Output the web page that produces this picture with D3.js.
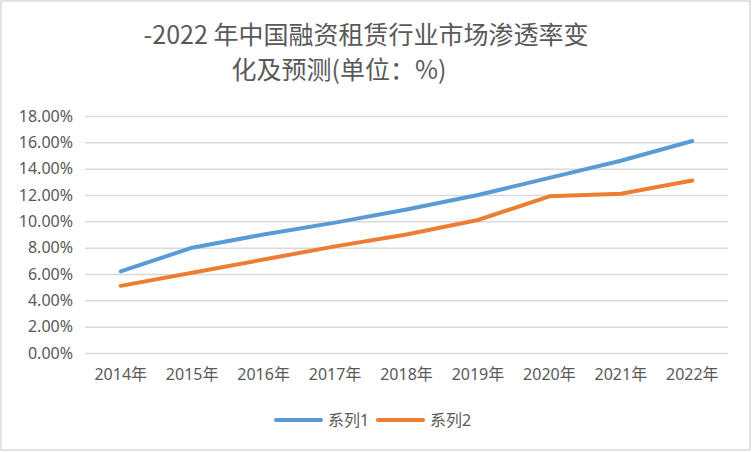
<!DOCTYPE html>
<html>
<head>
<meta charset="utf-8">
<script src="https://cdn.jsdelivr.net/npm/d3@7"></script>
<style>
  body { margin: 0; background: #fff; }
  text { font-family: "Noto Sans", "Noto Sans CJK SC", sans-serif; fill: #595959; }
</style>
</head>
<body>
<svg></svg>
<script>
// Data (percent)
const years = ["2014年", "2015年", "2016年", "2017年", "2018年", "2019年", "2020年", "2021年", "2022年"];
const series1 = [6.2, 8.0, 9.0, 9.9, 10.9, 12.0, 13.3, 14.6, 16.1];
const series2 = [5.1, 6.1, 7.1, 8.1, 9.0, 10.1, 11.9, 12.1, 13.1];
const seriesNames = ["系列1", "系列2"];
const yTicks = [0, 2, 4, 6, 8, 10, 12, 14, 16, 18];
const titleLines = ["-2022 年中国融资租赁行业市场渗透率变", "化及预测(单位：%)"];

let width = 752, height = 452;
let margin = { top: 116, bottom: 99, left: 85, right: 24 };
const colors = ["#5B9BD5", "#ED7D31"];

let svg = d3.select('svg')
    .attr('width', width)
    .attr('height', height);

// chart border
svg.append('rect')
    .attr('x', 1).attr('y', 1)
    .attr('width', width - 3).attr('height', height - 3)
    .attr('fill', '#fff')
    .attr('stroke', '#d9d9d9')
    .attr('stroke-width', 1.5);

// title
svg.append('text').attr('x', 366).attr('y', 44)
    .attr('text-anchor', 'middle').style('font-size', '25px')
    .style('font-family', '"Noto Sans CJK SC", sans-serif')
    .text(titleLines[0]);
svg.append('text').attr('x', 339).attr('y', 79)
    .attr('text-anchor', 'middle').style('font-size', '25px')
    .style('font-family', '"Noto Sans CJK SC", sans-serif')
    .text(titleLines[1]);

let xScale = d3.scaleBand()
    .domain(years)
    .range([margin.left, width - margin.right]);

let yScale = d3.scaleLinear()
    .domain([0, 18])
    .range([height - margin.bottom, margin.top]);

// gridlines + y labels
let yAxis = svg.append('g')
    .attr('transform', `translate(${margin.left}, 0)`)
    .call(d3.axisLeft(yScale)
        .tickValues(yTicks)
        .tickSize(-(width - margin.left - margin.right))
        .tickPadding(12)
        .tickFormat(d => d.toFixed(2) + '%'));
yAxis.select('.domain').remove();
yAxis.selectAll('line').attr('stroke', '#d9d9d9').attr('stroke-width', 1.5);
yAxis.selectAll('text').style('font-size', '16px').attr('fill', '#595959');

// x labels
let xAxis = svg.append('g')
    .attr('transform', `translate(0, ${height - margin.bottom})`)
    .call(d3.axisBottom(xScale).tickSize(0).tickPadding(16));
xAxis.select('.domain').remove();
xAxis.selectAll('text').style('font-size', '16px').attr('fill', '#595959')
    .style('font-family', '"Noto Sans", "Noto Sans CJK SC", sans-serif');

// lines
let line = d3.line()
    .x((d, i) => xScale(years[i]) + xScale.bandwidth() / 2)
    .y(d => yScale(d));

[series1, series2].forEach((s, k) => {
    svg.append('path')
        .datum(s)
        .attr('d', line)
        .attr('fill', 'none')
        .attr('stroke', colors[k])
        .attr('stroke-width', 4)
        .attr('stroke-linecap', 'round')
        .attr('stroke-linejoin', 'round');
});

// legend
const legendX = [276, 378];
seriesNames.forEach((name, k) => {
    let g = svg.append('g').attr('transform', `translate(${legendX[k]}, 420)`);
    g.append('line')
        .attr('x1', 0).attr('x2', 45)
        .attr('stroke', colors[k]).attr('stroke-width', 4)
        .attr('stroke-linecap', 'round');
    g.append('text')
        .attr('x', 52).attr('y', 6)
        .style('font-size', '16px')
        .text(name);
});
</script>
</body>
</html>
